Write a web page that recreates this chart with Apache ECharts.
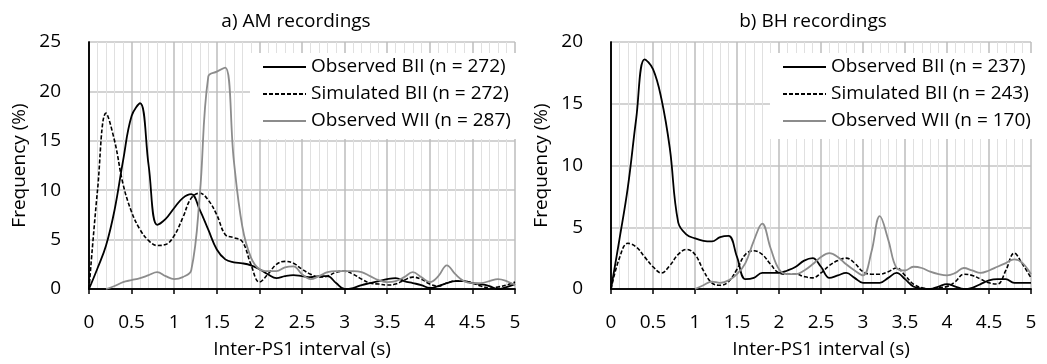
<!DOCTYPE html>
<html lang="en">
  <head>
    <meta charset="UTF-8" />
    <title>Inter-PS1 interval</title>
    <style>
      body {
        margin: 0;
        overflow: hidden;
        background: #fff;
      }
    </style>
    <script src="https://cdn.jsdelivr.net/npm/echarts@6/dist/echarts.min.js"></script>
  </head>

  <body>
    <div id="chart" style="width: 1047px; height: 364px"></div>
    <script>
      // interval (s), one point every 0.1 s
      var xs = [0, 0.1, 0.2, 0.3, 0.4, 0.5, 0.6, 0.7, 0.8, 0.9, 1, 1.1, 1.2, 1.3, 1.4, 1.5, 1.6, 1.7, 1.8, 1.9, 2,
        2.1, 2.2, 2.3, 2.4, 2.5, 2.6, 2.7, 2.8, 2.9, 3, 3.1, 3.2, 3.3, 3.4, 3.5, 3.6, 3.7, 3.8, 3.9, 4,
        4.1, 4.2, 4.3, 4.4, 4.5, 4.6, 4.7, 4.8, 4.9, 5];

      // a) AM recordings
      var amTitle = "a) AM recordings";
      var amNames = ["Observed BII (n = 272)", "Simulated BII (n = 272)", "Observed WII (n = 287)"];
      var amObsBII = [0, 2.1, 4.4, 8.0, 13.0, 17.5, 18.8, 12.5, 6.5, 7.1, 8.2, 9.2, 9.6, 8.0, 6.0, 4.0, 3.0, 2.7, 2.6, 2.4, 2.0,
        1.5, 1.1, 1.3, 1.4, 1.3, 1.2, 1.3, 1.3, 0.6, 0, 0.1, 0.4, 0.6, 0.8, 1.0, 1.1, 0.8, 0.6, 0.4, 0.1,
        0.3, 0.6, 0.8, 0.8, 0.6, 0.5, 0.3, 0, 0.2, 0.5];
      var amSimBII = [0, 10, 17.8, 15.0, 10.6, 7.8, 6.0, 4.9, 4.4, 4.5, 5.4, 7.2, 9.2, 9.7, 9.0, 7.5, 5.5, 5.2, 4.8, 2.5, 0.7,
        1.5, 2.5, 2.8, 2.6, 2.0, 1.5, 1.2, 1.3, 1.7, 1.8, 1.5, 1.0, 0.6, 0.5, 0.4, 0.5, 0.9, 1.2, 1.0, 0.5,
        0.3, 0.6, 0.8, 0.8, 0.6, 0.3, 0.1, 0.2, 0.4, 0.7];
      var amObsWII = [null, null, 0, 0.3, 0.7, 0.9, 1.1, 1.4, 1.7, 1.3, 1.0, 1.2, 1.9, 9.5, 21.5, 22.0, 22.4, 13.0, 6.3, 3.2, 2.0,
        1.8, 1.8, 2.2, 2.3, 1.5, 1.0, 1.3, 1.7, 1.8, 1.8, 1.8, 1.7, 1.3, 0.9, 0.7, 0.8, 1.2, 1.7, 1.2, 0.7,
        1.3, 2.4, 1.5, 0.8, 0.6, 0.6, 0.8, 1.0, 0.8, 0.4];

      // b) BH recordings
      var bhTitle = "b) BH recordings";
      var bhNames = ["Observed BII (n = 237)", "Simulated BII (n = 243)", "Observed WII (n = 170)"];
      var bhObsBII = [0, 4.0, 8.2, 13.8, 18.6, 17.8, 15.4, 11.4, 5.4, 4.4, 4.1, 3.9, 3.85, 4.2, 4.3, 2.6, 0.8, 0.9, 1.3, 1.3, 1.3,
        1.5, 1.8, 2.3, 2.5, 1.8, 0.9, 1.1, 1.3, 0.9, 0.5, 0.5, 0.5, 0.9, 1.3, 0.8, 0.2, 0.05, 0, 0.2, 0.4,
        0.2, 0, 0.1, 0.4, 0.7, 0.8, 0.8, 0.5, 0.5, 0.5];
      var bhSimBII = [0, 2.5, 3.7, 3.4, 2.6, 1.8, 1.3, 1.9, 2.8, 3.2, 2.8, 1.5, 0.5, 0.3, 0.6, 1.6, 2.8, 3.1, 2.8, 2.0, 1.3,
        1.2, 1.2, 1.0, 0.9, 1.3, 1.9, 2.3, 2.5, 2.1, 1.4, 1.2, 1.2, 1.4, 1.7, 1.1, 0.4, 0.1, 0, 0.1, 0.2,
        0.6, 1.2, 1.1, 0.8, 0.5, 0.4, 1.5, 2.9, 2.0, 0.9];
      var bhObsWII = [null, null, null, null, null, null, null, null, null, null, 0, 0.3, 0.6, 0.5, 0.7, 1.2, 2.1, 3.9, 5.3, 3.3, 1.6,
        1.2, 1.2, 1.5, 2.0, 2.6, 2.9, 2.6, 2.0, 1.5, 1.1, 3.0, 5.9, 4.0, 1.7, 1.5, 1.8, 1.7, 1.4, 1.2, 1.1,
        1.3, 1.7, 1.5, 1.3, 1.5, 1.8, 2.1, 2.4, 2.1, 1.2];

      var yTicks = {
        am: { max: 25, interval: 5 },
        bh: { max: 20, interval: 5 },
      };

      var font = "Open Sans";
      var fs = 19;
      var grey = "#8c8c8c";

      function pairs(ys) {
        return xs.map(function (x, i) {
          return [x, ys[i]];
        });
      }

      function xAxis(idx) {
        return {
          type: "value",
          gridIndex: idx,
          min: 0,
          max: 5,
          interval: 0.5,
          name: "Inter-PS1 interval (s)",
          nameLocation: "middle",
          nameGap: 51,
          nameTextStyle: { fontFamily: font, fontSize: fs, color: "#000" },
          axisLine: { lineStyle: { color: "#000", width: 1.5 } },
          axisTick: { show: true, length: 5, lineStyle: { color: "#000", width: 1.5 } },
          axisLabel: { fontFamily: font, fontSize: fs, color: "#000", margin: 24 },
          splitLine: { show: true, lineStyle: { color: "#bdbdbd", width: 1.5 } },
          minorTick: { show: false, splitNumber: 5 },
          minorSplitLine: { show: true, lineStyle: { color: "#e0e0e0", width: 1 } },
        };
      }

      function yAxis(idx, t) {
        return {
          type: "value",
          gridIndex: idx,
          min: 0,
          max: t.max,
          interval: t.interval,
          name: "Frequency (%)",
          nameLocation: "middle",
          nameGap: 60,
          nameTextStyle: { fontFamily: font, fontSize: fs, color: "#000" },
          axisLine: { show: true, lineStyle: { color: "#000", width: 1.5 } },
          axisTick: { show: false },
          axisLabel: { fontFamily: font, fontSize: fs, color: "#000", margin: 28 },
          splitLine: { show: true, lineStyle: { color: "#c4c4c4", width: 1.5 } },
        };
      }

      // black frame on top and right of each plot
      function frameX(idx) {
        return {
          type: "value", gridIndex: idx, position: "top", min: 0, max: 5,
          axisLine: { show: true, lineStyle: { color: "#000", width: 1.5 } },
          axisTick: { show: false }, axisLabel: { show: false }, splitLine: { show: false },
        };
      }
      function frameY(idx) {
        return {
          type: "value", gridIndex: idx, position: "right", min: 0, max: 1,
          axisLine: { show: true, lineStyle: { color: "#000", width: 1.5 } },
          axisTick: { show: false }, axisLabel: { show: false }, splitLine: { show: false },
        };
      }

      function series(names, a, b, c, idx) {
        return [
          {
            name: names[0], type: "line", xAxisIndex: idx, yAxisIndex: idx,
            data: pairs(a), smooth: 0.4, symbol: "none",
            lineStyle: { color: "#000", width: 1.8 }, itemStyle: { color: "#000" },
          },
          {
            name: names[1], type: "line", xAxisIndex: idx, yAxisIndex: idx,
            data: pairs(b), smooth: 0.4, symbol: "none",
            lineStyle: { color: "#000", width: 1.6, type: [4, 2] }, itemStyle: { color: "#000" },
          },
          {
            name: names[2], type: "line", xAxisIndex: idx, yAxisIndex: idx,
            data: pairs(c), smooth: 0.4, symbol: "none",
            lineStyle: { color: grey, width: 1.8 }, itemStyle: { color: grey },
          },
        ];
      }

      function legend(names, left) {
        return {
          data: names,
          orient: "vertical",
          left: left,
          top: 53,
          backgroundColor: "#fff",
          padding: [4, 10, 8, 12],
          itemWidth: 43,
          itemHeight: 10,
          itemGap: 7,
          itemStyle: { opacity: 0 },
          textStyle: { fontFamily: font, fontSize: fs, color: "#000", lineHeight: 20 },
        };
      }

      var titleStyle = { fontFamily: font, fontSize: fs, fontWeight: "normal", color: "#000" };

      var option = {
        animation: false,
        backgroundColor: "#fff",
        title: [
          { text: amTitle, left: 291, top: 7, textAlign: "center", textStyle: titleStyle },
          { text: bhTitle, left: 808, top: 7, textAlign: "center", textStyle: titleStyle },
        ],
        legend: [legend(amNames, 250), legend(bhNames, 770)],
        grid: [
          { left: 89, top: 42, width: 426, height: 252 },
          { left: 611, top: 42, width: 420, height: 251 },
        ],
        xAxis: [xAxis(0), xAxis(1), frameX(0), frameX(1)],
        yAxis: [yAxis(0, yTicks.am), yAxis(1, yTicks.bh), frameY(0), frameY(1)],
        series: series(amNames, amObsBII, amSimBII, amObsWII, 0).concat(
          series(bhNames, bhObsBII, bhSimBII, bhObsWII, 1)
        ),
      };

      var myChart = echarts.init(document.getElementById("chart"));
      myChart.setOption(option);
    </script>
  </body>
</html>
